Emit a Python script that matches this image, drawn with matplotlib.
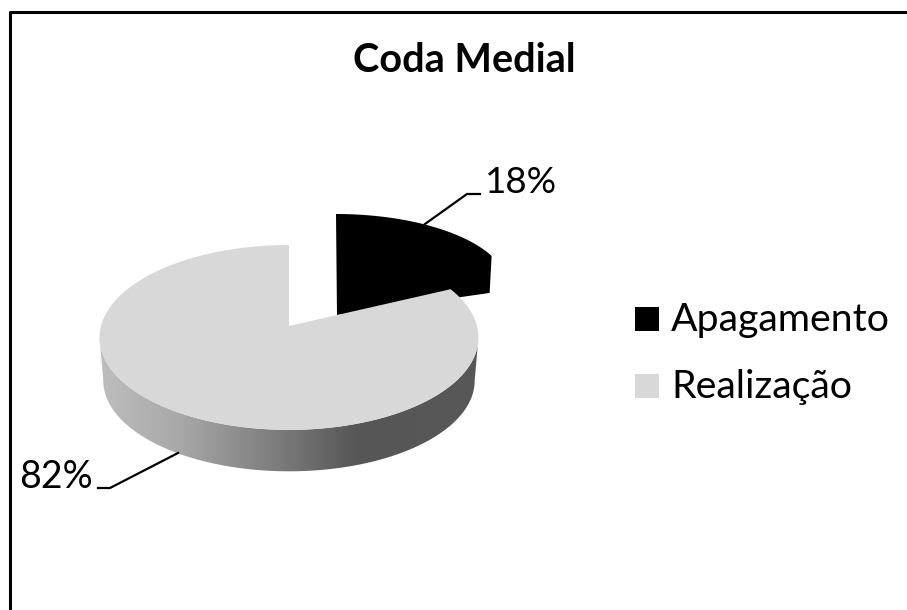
import numpy as np
import matplotlib
matplotlib.use('Agg')
import matplotlib.pyplot as plt
from matplotlib.patches import Polygon, Rectangle
from matplotlib.colors import LinearSegmentedColormap

title = 'Coda Medial'
categories = ['Apagamento', 'Realização']
values = [18, 82]
colors = ['#000000', '#d8d8d8']
labels = ['18%', '82%']

plt.rcParams['font.family'] = ['Lato', 'DejaVu Sans']

# fig in pixel coords, y going down like the picture
fig = plt.figure(figsize=[9.07, 6.10], dpi=100)
ax = fig.add_axes([0, 0, 1, 1])
ax.set_xlim(0, 907)
ax.set_ylim(610, 0)
ax.axis('off')

## slice angles, clockwise from 12 o'clock
frac = np.array(values) / sum(values)
split = 2 * np.pi * frac[0]


## tilted disc with a bit of perspective
def disc(theta, cy=326., scale=1.):
    k = 0.124
    u, v = np.sin(theta), np.cos(theta)
    d = 1 + k * v
    return 289 + 188 * scale * u / d, cy - 91 * scale * v / d


## black slice, pulled out from the pie
t = np.linspace(0, split, 60)
xb = 336 + 172 * np.sin(t)
yb = 287 - 73 * np.cos(t)
xb = np.r_[337, xb, xb[-1] - 2, 337]
yb = np.r_[315, yb, yb[-1] + 37, 315]
ax.fill(xb, yb, color=colors[0], lw=0, zorder=2)

## side wall with the gradient, between the widest points of the disc
t = np.linspace(np.pi / 2 + 0.124, 3 * np.pi / 2 - 0.124, 200)
xt, yt = disc(t)
xl, yl = disc(t, cy=369.5, scale=0.98)
wall = Polygon(np.c_[np.r_[xt, xl[::-1]], np.r_[yt, yl[::-1]]], closed=True,
               fc='none', ec='none', transform=ax.transData)
ax.add_patch(wall)
cmap = LinearSegmentedColormap.from_list('wall', [(0, '#bdbdbd'), (0.2, '#aaaaaa'), (0.5, '#777777'),
                                                  (0.68, '#565656'), (1, '#585858')])
im = ax.imshow(np.linspace(0, 1, 256).reshape(1, -1), cmap=cmap, vmin=0, vmax=1, aspect='auto',
               extent=[99, 478, 480, 330], zorder=3)
im.set_clip_path(wall)
ax.set_xlim(0, 907)
ax.set_ylim(610, 0)

## top face of the big slice
t = np.linspace(split, 2 * np.pi, 300)
xg, yg = disc(t)
ax.fill(np.r_[289, xg], np.r_[326, yg], color=colors[1], lw=0, zorder=4)

## leader lines and labels
ax.plot([425, 467, 480], [224, 194, 194], color='k', lw=1.6, zorder=5)
ax.plot([178, 110, 98], [453, 488, 488], color='k', lw=1.6, zorder=5)
ax.text(485, 193, labels[0], fontsize=26.5, ha='left', va='baseline', zorder=6)
ax.text(19, 488, labels[1], fontsize=27, ha='left', va='baseline', zorder=6)

ax.text(464, 72, title, fontsize=28.5, fontweight='bold', ha='center', va='baseline')

## legend
for i, name in enumerate(categories):
    y = 319 + 67 * i
    ax.add_patch(Rectangle((635, y - 12), 24, 24, fc=colors[i], ec='none'))
    ax.text(671, y + 12, name, fontsize=28.3, ha='left', va='baseline')

## outer frame, only top and left show
ax.plot([10, 10, 907], [610, 12, 12], color='k', lw=2.2, zorder=7)

fig.savefig('out.png', dpi=100)
